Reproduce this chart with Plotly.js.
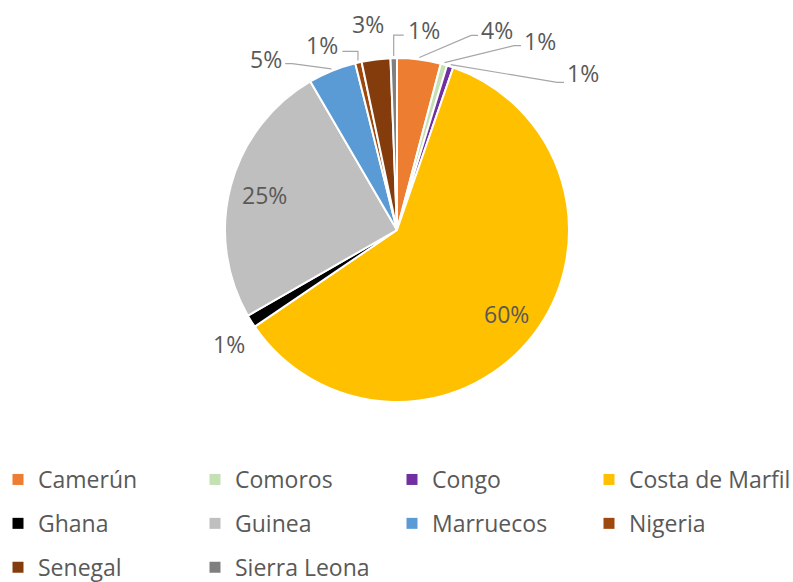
<!DOCTYPE html>
<html>
<head>
<meta charset="utf-8">
<script src="https://cdn.plot.ly/plotly-3.0.1.min.js"></script>
<style>html,body{margin:0;padding:0;background:#fff;}#chart{width:793px;height:582px;}</style>
</head>
<body>
<div id="chart"></div>
<script>
// ---- data ----
const countries = ["Camerún","Comoros","Congo","Costa de Marfil","Ghana","Guinea","Marruecos","Nigeria","Senegal","Sierra Leona"];
const shares = [4.1, 0.6, 0.6, 60.2, 1.2, 24.9, 4.5, 0.6, 2.7, 0.6];
const colors = ["#ED7D31","#C5E0B4","#7030A0","#FFC000","#000000","#BFBFBF","#5B9BD5","#9E480E","#843C0C","#7F7F7F"];
// legend column each entry goes to (entries flow left-to-right, 4 per row)
const legendCols = ["legend","legend2","legend3","legend4","legend","legend2","legend3","legend4","legend","legend2"];

// ---- label placement (pixel offsets from slice edge, styling only) ----
const labelPlace = {
  "Camerún":        {dx: 78,  dy: -29, leader: "right"},
  "Comoros":        {dx: 96,  dy: -24, leader: "right"},
  "Congo":          {dx: 133, dy: 7,   leader: "right", ly: 9},
  "Costa de Marfil":{inside: 0.8},
  "Ghana":          {dx: -22, dy: 23,  leader: "none"},
  "Guinea":         {inside: 0.8},
  "Marruecos":      {dx: -66, dy: -12, leader: "left"},
  "Nigeria":        {dx: -36, dy: -17, leader: "upleft"},
  "Senegal":        {dx: -8,  dy: -35, leader: "none"},
  "Sierra Leona":   {dx: 30,  dy: -28, leader: "upright"}
};

const W = 793, H = 582;
const FONT = "Open Sans, Noto Sans, sans-serif";
const GREY = "#595959";
const LINE = "#A6A6A6";
const FS = 23;
const pieDomain = {x: [0.2837, 0.7175], y: [0.3093, 0.9003]};

// geometry of the pie from its domain (margins are zero, so paper == pixels / size)
const cx = (pieDomain.x[0] + pieDomain.x[1]) / 2 * W;
const cy = (1 - (pieDomain.y[0] + pieDomain.y[1]) / 2) * H;
const R = Math.min((pieDomain.x[1] - pieDomain.x[0]) * W, (pieDomain.y[1] - pieDomain.y[0]) * H) / 2;
const total = shares.reduce((a, b) => a + b, 0);
const px = x => x / W;
const py = y => 1 - y / H;

const annotations = [];
const shapes = [];
let cum = 0;
countries.forEach((c, i) => {
  const v = shares[i];
  const mid = (cum + v / 2) / total * 2 * Math.PI;   // clockwise from 12 o'clock
  cum += v;
  const sx = Math.sin(mid), sy = -Math.cos(mid);
  const txt = Math.round(v / total * 100) + "%";
  const p = labelPlace[c];
  let lx, ly;
  if (p.inside) {
    lx = cx + p.inside * R * sx;
    ly = cy + p.inside * R * sy;
  } else {
    const ex = cx + R * sx, ey = cy + R * sy;
    lx = ex + p.dx; ly = ey + p.dy;
    const s0x = cx + (R + 2) * sx, s0y = cy + (R + 2) * sy;
    const hw = 17, off = (p.ly !== undefined ? p.ly : 5);
    let pts = null;
    if (p.leader === "right") pts = [[s0x, s0y], [lx - hw - 9, ly + off], [lx - hw - 2, ly + off]];
    else if (p.leader === "left") pts = [[s0x, s0y], [lx + hw + 9, ly + off], [lx + hw + 2, ly + off]];
    else if (p.leader === "upright") pts = [[s0x, s0y], [s0x, ly + off], [lx - hw - 3, ly + off]];
    else if (p.leader === "upleft") pts = [[s0x, s0y], [s0x, ly + off + 1], [lx + hw + 3, ly + off + 1]];
    if (pts) {
      shapes.push({
        type: "path", xref: "paper", yref: "paper",
        path: pts.map((q, k) => (k ? "L" : "M") + px(q[0]).toFixed(5) + "," + py(q[1]).toFixed(5)).join(" "),
        line: {color: LINE, width: 1.2}
      });
    }
  }
  annotations.push({
    xref: "paper", yref: "paper", x: px(lx), y: py(ly),
    xanchor: "center", yanchor: "middle", showarrow: false,
    text: txt, font: {family: FONT, size: FS, color: GREY}
  });
});

const pie = {
  type: "pie",
  labels: countries,
  values: shares,
  sort: false,
  direction: "clockwise",
  rotation: 0,
  marker: {colors: colors, line: {color: "#ffffff", width: 2}},
  textinfo: "none",
  showlegend: false,
  hoverinfo: "label+percent",
  domain: pieDomain
};

const legendTraces = countries.map((c, i) => ({
  type: "scatter",
  mode: "markers",
  x: [null], y: [null],
  name: c,
  legend: legendCols[i],
  legendgroup: "g" + i,
  marker: {symbol: "square", size: 11, color: colors[i]},
  showlegend: true,
  hoverinfo: "skip"
}));

const colX = [-2, 195, 392, 589];   // left pixel of each legend column
function legendCfg(k) {
  return {
    orientation: "v",
    x: colX[k] / W, xanchor: "left",
    y: 1 - 458 / H, yanchor: "top",
    tracegroupgap: 11,
    font: {family: FONT, size: FS, color: GREY},
    itemwidth: 30,
    bgcolor: "rgba(0,0,0,0)"
  };
}

const layout = {
  width: W, height: H,
  margin: {l: 0, r: 0, t: 0, b: 0, autoexpand: false},
  paper_bgcolor: "#ffffff",
  plot_bgcolor: "#ffffff",
  font: {family: FONT, color: GREY},
  xaxis: {visible: false},
  yaxis: {visible: false},
  legend: legendCfg(0),
  legend2: legendCfg(1),
  legend3: legendCfg(2),
  legend4: legendCfg(3),
  annotations: annotations,
  shapes: shapes
};

Plotly.newPlot("chart", [pie].concat(legendTraces), layout, {displayModeBar: false, staticPlot: true});
</script>
</body>
</html>
